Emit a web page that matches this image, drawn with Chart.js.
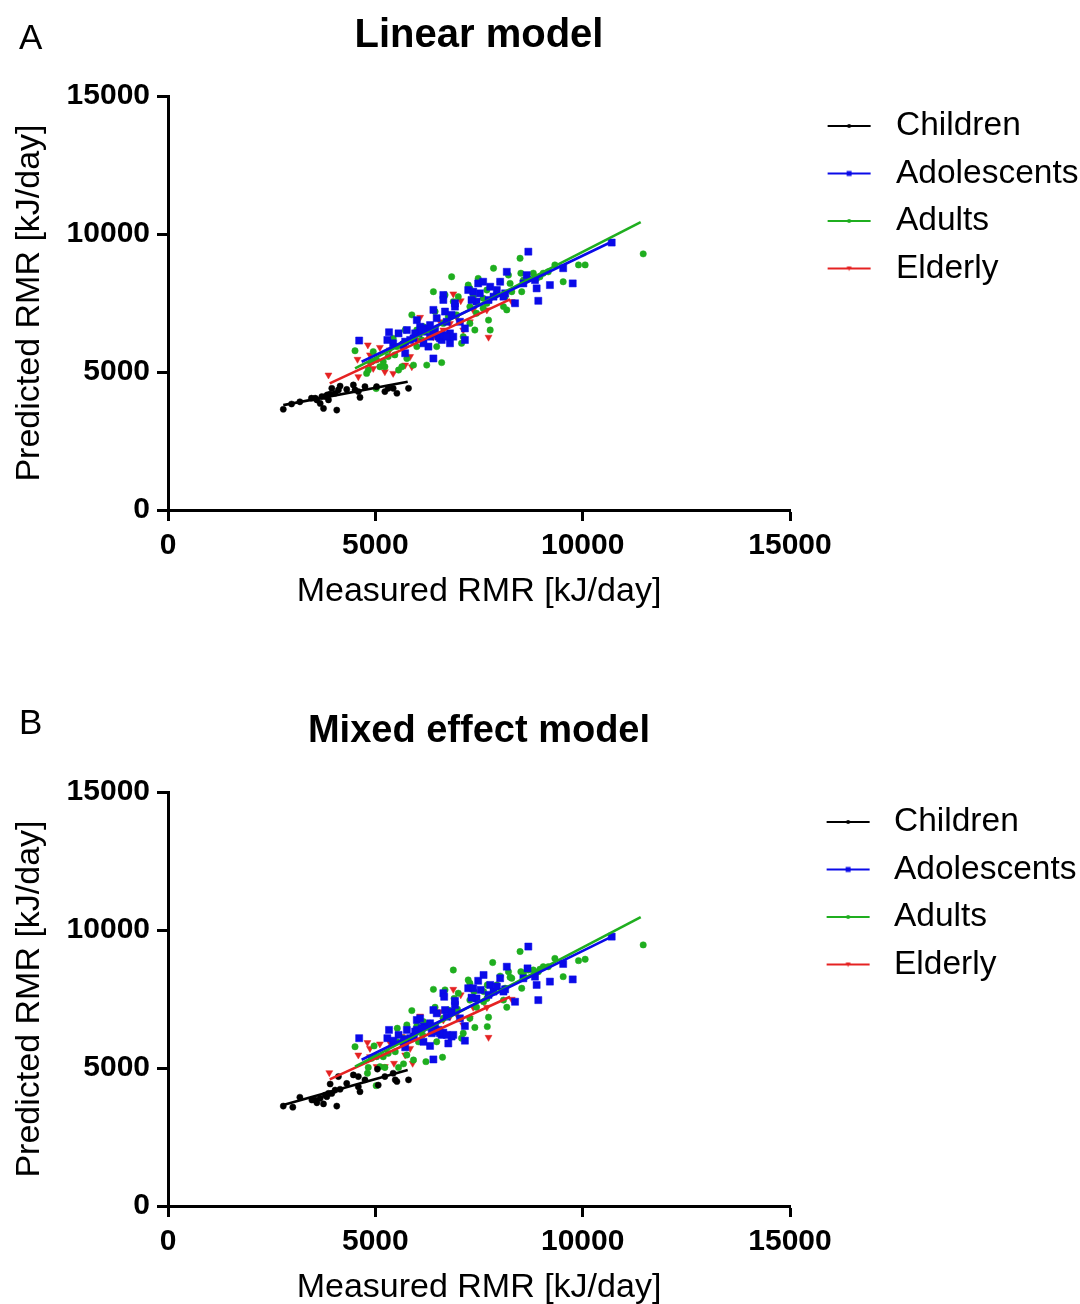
<!DOCTYPE html>
<html>
<head>
<meta charset="utf-8">
<script src="https://cdn.jsdelivr.net/npm/chart.js@4.4.1/dist/chart.umd.min.js"></script>
<style>
html,body{margin:0;padding:0;background:#fff;overflow:hidden;width:1080px;height:1304px;}
.panel{position:absolute;left:0;width:1080px;height:612px;}
.panel canvas{position:absolute;left:0;top:0;}
.letter{position:absolute;left:19px;font-family:'Liberation Sans',Arial,sans-serif;font-size:35px;line-height:35px;color:#000;}
</style>
</head>
<body>
<div class="panel" style="top:0px;"><canvas id="chartA" width="1080" height="612"></canvas><div class="letter" style="top:19px;">A</div></div>
<div class="panel" style="top:696px;"><canvas id="chartB" width="1080" height="612"></canvas><div class="letter" style="top:8px;">B</div></div>
<script>
// ---------- data ----------
const groupNames = ['Children', 'Adolescents', 'Adults', 'Elderly'];
const axisTicks = [0, 5000, 10000, 15000];

// Panel A: Linear model (measured x, predicted y)
const linChildrenX = [2780,2980,3180,3550,3670,3750,3790,3840,3910,3950,4030,4070,4110,4150,4470,4510,4590,4630,4750,5030,5230,5310,5430,5520,5800,3590,3870,4310,3460,3710];
const linChildrenY = [3650,3840,3920,4050,3860,3680,4110,4170,4200,4410,4230,3620,4350,4490,4530,4350,4290,4080,4470,4470,4290,4410,4410,4230,4410,3990,3990,4370,4050,4110];
const linAdolescentsX = [4610,5330,5290,5560,5760,5680,5720,5840,5920,6000,6080,6160,6240,6280,6400,6400,6480,6440,6560,6640,6640,6680,6720,6840,6800,6880,6920,7040,7160,7240,7360,7480,7520,7600,7730,7770,7850,7930,8010,8130,8170,8370,8570,8650,8690,8850,8890,8930,9210,9530,9760,10700,6800,6600,6520,6320,6160,6040,7440,8090,5430,5720,5960,6120,6320,6400,6640,6720,6920,7160,7320];
const linAdolescentsY = [6140,6440,6160,6400,6520,5980,5680,6160,6220,6880,6640,6460,6580,5920,5490,7250,6950,6520,6220,7790,7610,7190,6820,7070,6040,6280,7370,6820,6160,7970,7910,8210,7850,8270,7610,8090,7730,7970,8270,7850,8630,7490,8210,8510,9360,8330,8030,7580,8150,8760,8210,9690,6400,6160,6280,6280,6040,6400,7550,7730,6040,6100,6400,6520,6700,6400,6340,6280,7490,6580,7610];
const linAdultsX = [4510,4790,4830,4910,4950,5030,5110,5230,5310,5430,5470,5560,5640,5720,5760,5880,5920,6000,6120,6240,6400,6440,6480,6600,6680,6840,6880,6960,7080,7120,7240,7280,7360,7400,7480,7600,7690,7730,7770,7850,7930,8010,8130,8170,8210,8290,8490,8510,8530,8690,8810,8890,8970,9170,9330,9530,9900,10060,11460,5020,6320,6640,6760,7280,7440,7690,8090,7000,7280,7600,8250,8570,9050,6000,6160,5520,5190,5680];
const linAdultsY = [5770,4950,5070,5370,5740,5440,5190,5190,5560,6220,5620,5070,5190,6520,5490,7070,5250,5920,6160,5250,7910,7190,5920,5340,7790,8450,7550,7070,6040,6280,8150,7370,7730,6520,8390,7310,7970,6880,6520,8760,7850,8270,7730,7250,8510,7910,9120,8580,7910,8390,8580,8390,8450,8630,8880,8270,8880,8880,9280,4400,6520,6760,7000,6760,7130,7490,7370,7730,8030,7670,8210,8330,8580,6520,6640,5920,5370,6040];
const linElderlyX = [3870,4570,4820,4590,5110,4870,4950,5230,5430,5640,5720,5880,5840,6000,6080,6240,6560,6640,6880,6960,7060,7280,7360,7690,7730,8290,4870,5350,6400,6800,7120];
const linElderlyY = [4890,5460,5980,4830,5890,5290,5130,5010,4950,5920,5250,5190,5560,6160,6980,6520,6820,6520,7830,6980,7580,6820,7250,7250,6260,7550,5620,5800,6280,6760,6520];
// fitted lines, panel A: [xStart, xEnd], [yStart, yEnd]
const linFitX = [[2780,5780],[4670,10700],[4510,11400],[3900,8250]];
const linFitY = [[3800,4650],[5370,9720],[5130,10430],[4590,7630]];

// Panel B: Mixed effect model
const mixChildrenX = [2780,3010,3180,3550,3590,3750,3790,3870,3910,3950,4030,4070,4110,4150,4470,4590,4630,4750,5050,5070,5230,5430,5480,5520,5800,3670,3830,4310,3470,4590];
const mixChildrenY = [3620,3580,3940,3840,3740,3700,4020,4080,4420,4080,4200,3620,4690,4230,4750,4690,4140,4570,4960,4380,4690,4810,4570,4510,4570,3900,3960,4440,3840,4320];
const mixAdolescentsX = [4610,5330,5290,5560,5760,5680,5720,5840,5930,6000,6080,6170,6240,6320,6400,6400,6480,6440,6560,6640,6660,6680,6720,6840,6760,6880,6920,7040,7160,7240,7360,7480,7540,7610,7730,7770,7850,7930,8010,8130,8170,8370,8570,8670,8690,8850,8890,8930,9210,9530,9760,10700,6840,6600,6520,6360,6160,6000,7440,8090,5430,5720,5960,6120,6320,6400,6640,6720,6920,7160,7320];
const mixAdolescentsY = [6080,6380,6080,6200,6380,5890,5750,6080,6140,6740,6800,6500,6500,5800,5310,7100,6980,6500,6260,7710,7580,7100,6860,7040,5890,6200,7280,6800,5990,7890,7890,8160,7830,8370,7650,8010,7770,7950,8250,7850,8670,7400,8250,8610,9400,8310,8010,7460,8130,8770,8210,9760,6140,6200,6380,6260,5950,6380,7520,7770,5990,6040,6320,6440,6620,6320,6280,6200,7430,6520,7550];
const mixAdultsX = [4510,4810,4830,4910,4970,5030,5110,5230,5310,5530,5480,5560,5680,5760,5760,5880,5920,6040,6140,6220,6400,6440,6480,6620,6680,6880,6900,6980,7080,7120,7240,7280,7380,7400,7830,7610,7700,7730,7700,7930,8010,8130,8170,8210,8290,8490,8510,8530,8690,8810,8930,8970,9170,9330,9530,9900,10060,11460,5020,6320,6640,6760,7280,7440,7690,8090,7000,7280,7610,8250,8570,9050,6000,6160,5520,5190,5680];
const mixAdultsY = [5770,4810,5020,5350,5800,5410,5050,5020,5530,6440,5590,5020,5150,6560,5470,7080,5290,5950,6200,5230,7850,7200,5950,5390,7830,8550,7520,7130,6080,6260,8190,7460,7770,6470,8820,7400,8010,6840,6500,8010,8330,7890,7200,8490,8250,9220,8490,7890,8550,8550,8490,8580,8670,8970,8310,8890,8940,9460,4360,6620,6800,7100,6800,7200,7520,7460,7710,8070,7770,8290,8430,8670,6520,6680,5950,5410,6080];
const mixElderlyX = [3890,4590,4810,5110,4870,5030,5230,5450,5640,5720,5900,5840,6000,6080,6250,6560,6640,6880,6960,7060,7280,7360,7690,7730,8290,4870,5350,6400,6800,7120];
const mixElderlyY = [4830,5470,5920,5870,5410,5050,5050,5170,6140,5470,5170,5710,6380,6880,6620,7040,6740,7850,6960,7650,6800,7200,7200,6110,7490,5710,5920,6320,6860,6560];
const mixFitX = [[2780,5780],[4670,10700],[4510,11400],[3900,8250]];
const mixFitY = [[3660,4930],[5300,9760],[5050,10470],[4590,7580]];

// ---------- styles ----------
const groupColors = ['#000000', '#0a0ae8', '#1fae1f', '#e52222'];
const groupMarkers = ['circle', 'rect', 'circle', 'triangle'];
const groupRadius = [3.1, 5.0, 3.2, 4.0];
const groupRotation = [0, 0, 0, 180];
const FONT = "'Liberation Sans', Arial, sans-serif";
Chart.defaults.font.family = FONT;
Chart.defaults.color = '#000';

function zip(xs, ys) { return xs.map((x, i) => ({ x: x, y: ys[i] })); }

function legendIcon(gi) {
  const c = document.createElement('canvas');
  c.width = 60; c.height = 14;
  const g = c.getContext('2d');
  g.strokeStyle = groupColors[gi];
  g.fillStyle = groupColors[gi];
  g.lineWidth = 2;
  g.beginPath(); g.moveTo(16, 7); g.lineTo(59, 7); g.stroke();
  const cx = 37.5, cy = 7;
  g.beginPath();
  if (groupMarkers[gi] === 'rect') { g.rect(cx - 2.5, cy - 2.5, 5, 5); }
  else if (groupMarkers[gi] === 'triangle') { g.moveTo(cx - 2.5, cy - 2); g.lineTo(cx + 2.5, cy - 2); g.lineTo(cx, cy + 2.5); g.closePath(); }
  else { g.arc(cx, cy, 2, 0, Math.PI * 2); }
  g.fill();
  return c;
}
const legendIcons = groupNames.map((n, i) => legendIcon(i));

function makeChart(canvasId, title, titleSize, pts, fitX, fitY, legendBoxW) {
  const datasets = [];
  groupNames.forEach((name, gi) => {
    datasets.push({
      type: 'line', label: name, isFit: true, groupIndex: gi,
      data: [{ x: fitX[gi][0], y: fitY[gi][0] }, { x: fitX[gi][1], y: fitY[gi][1] }],
      borderColor: groupColors[gi], borderWidth: 2.6, pointRadius: 0, pointHoverRadius: 0,
      fill: false, tension: 0, order: 0
    });
  });
  groupNames.forEach((name, gi) => {
    datasets.push({
      type: 'scatter', label: name + ' data', isFit: false, groupIndex: gi,
      data: zip(pts[gi][0], pts[gi][1]),
      pointStyle: groupMarkers[gi], pointRadius: groupRadius[gi], pointRotation: groupRotation[gi],
      pointBackgroundColor: groupColors[gi], pointBorderColor: groupColors[gi], pointBorderWidth: 0.5,
      order: 1
    });
  });
  const lh = titleSize * 1.2;
  const tc = 35.5;
  const tickFont = { size: 30, weight: 'bold', family: FONT };
  const axisTitleFont = { size: 34, family: FONT };
  const scaleCommon = {
    type: 'linear', min: 0, max: 15000,
    afterBuildTicks: (s) => { s.ticks = axisTicks.map(v => ({ value: v })); },
    border: { display: true, color: '#000', width: 3 },
    grid: { display: true, drawOnChartArea: false, drawTicks: true, tickLength: 11, tickWidth: 3, tickColor: '#000' },
  };
  return new Chart(document.getElementById(canvasId), {
    type: 'scatter',
    data: { datasets: datasets },
    options: {
      responsive: false, animation: false, maintainAspectRatio: false,
      layout: { padding: { top: 0, left: 0, right: 0, bottom: 0 } },
      scales: {
        x: Object.assign({}, scaleCommon, {
          position: 'bottom',
          afterFit: (s) => { s.height = 102; },
          ticks: { font: tickFont, color: '#000', padding: 7, maxRotation: 0, autoSkip: false, callback: v => String(v) },
          title: { display: true, text: 'Measured RMR [kJ/day]', font: axisTitleFont, color: '#000', padding: { top: 0, bottom: 0 } }
        }),
        y: Object.assign({}, scaleCommon, {
          position: 'left',
          afterFit: (s) => { s.width = 168; },
          ticks: { font: tickFont, color: '#000', padding: 7, autoSkip: false, callback: v => String(v) },
          title: { display: true, text: 'Predicted RMR [kJ/day]', font: axisTitleFont, color: '#000', padding: { top: 9.3, bottom: 0 } }
        })
      },
      plugins: {
        tooltip: { enabled: false },
        title: {
          display: true, text: title, fullSize: false, color: '#000',
          font: { size: titleSize, weight: 'bold', family: FONT },
          padding: { top: tc - lh / 2, bottom: 96 - (tc - lh / 2) - lh }
        },
        legend: {
          display: true, position: 'right', align: 'start', fullSize: true, maxWidth: 290,
          title: { display: true, text: '', font: { size: 10 }, padding: { top: 83.25, bottom: 0 } },
          labels: {
            usePointStyle: true, pointStyleWidth: legendBoxW, padding: 14, color: '#000',
            font: { size: 33.5, family: FONT },
            generateLabels: (chart) => {
              return chart.data.datasets
                .map((ds, i) => ({ ds: ds, i: i }))
                .filter(o => o.ds.isFit)
                .map(o => ({
                  text: o.ds.label, datasetIndex: o.i, fillStyle: groupColors[o.ds.groupIndex],
                  strokeStyle: groupColors[o.ds.groupIndex], lineWidth: 0, hidden: false,
                  pointStyle: legendIcons[o.ds.groupIndex], rotation: 0, fontColor: '#000'
                }));
            }
          }
        }
      }
    }
  });
}

makeChart('chartA', 'Linear model', 40,
  [[linChildrenX, linChildrenY], [linAdolescentsX, linAdolescentsY], [linAdultsX, linAdultsY], [linElderlyX, linElderlyY]],
  linFitX, linFitY, 75.25);
makeChart('chartB', 'Mixed effect model', 38,
  [[mixChildrenX, mixChildrenY], [mixAdolescentsX, mixAdolescentsY], [mixAdultsX, mixAdultsY], [mixElderlyX, mixElderlyY]],
  mixFitX, mixFitY, 73.25);
</script>
</body>
</html>
